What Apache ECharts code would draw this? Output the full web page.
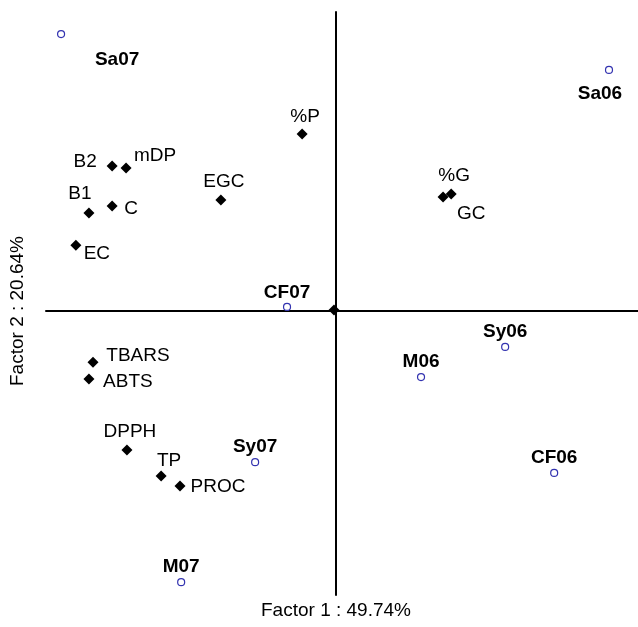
<!DOCTYPE html>
<html>
<head>
<meta charset="utf-8">
<script src="https://cdn.jsdelivr.net/npm/echarts@6/dist/echarts.min.js"></script>
<style>html,body{margin:0;padding:0;background:#fff}#c{width:638px;height:627px}</style>
</head>
<body>
<div id="c"></div>
<script>
// Observations (cases)
const obsNames = ['Sa07','CF07','Sa06','Sy07','M07','M06','Sy06','CF06'];
const obsF1 = [-0.948,-0.169,0.941,-0.279,-0.534,0.293,0.583,0.752];
const obsF2 = [0.926,0.012,0.806,-0.508,-0.910,-0.223,-0.122,-0.544];
// Variables
const varNames = ['%P','B2','mDP','EGC','B1','C','EC','%G','GC','','TBARS','ABTS','DPPH','TP','PROC'];
const varF1 = [-0.117,-0.772,-0.724,-0.397,-0.852,-0.772,-0.897,0.369,0.397,-0.007,-0.838,-0.852,-0.721,-0.603,-0.538];
const varF2 = [0.591,0.484,0.477,0.370,0.327,0.350,0.219,0.380,0.390,0.002,-0.173,-0.229,-0.467,-0.554,-0.588];
const xTitle = 'Factor 1 : 49.74%';
const yTitle = 'Factor 2 : 20.64%';

// label placement (layout only)
const labelOffsets = {
  'Sa07':[56,26],'CF07':[0,-14],'Sa06':[-9,24],'Sy07':[0,-15],'M07':[0,-15],'M06':[0,-15],'Sy06':[0,-15],'CF06':[0,-15],
  '%P':[3,-17],'B2':[-27,-4],'mDP':[29,-12],'EGC':[3,-18],'B1':[-9,-19],'C':[19,3],'EC':[21,9],'%G':[11,-21],'GC':[20,20],
  'TBARS':[45,-6],'ABTS':[39,3],'DPPH':[3,-18],'TP':[8,-15],'PROC':[38,1],'':[0,0]
};
const FONT = '"Liberation Sans", Arial, sans-serif';

function build(names, xs, ys, bold) {
  return names.map((n, i) => ({
    name: n,
    value: [xs[i], ys[i]],
    label: {
      show: n !== '',
      formatter: n,
      position: 'inside',
      offset: labelOffsets[n] || [0,0],
      color: '#000',
      opacity: 1,
      fontFamily: FONT,
      fontSize: 19,
      fontWeight: bold ? 'bold' : 'normal'
    }
  }));
}

const chart = echarts.init(document.getElementById('c'));
chart.setOption({
  animation: false,
  backgroundColor: '#fff',
  grid: { left: 46, right: 0, top: 12, bottom: 32 },
  xAxis: {
    type: 'value', min: -1, max: 1.041,
    axisLine: { show: true, onZero: true, lineStyle: { color: '#000', width: 2 } },
    axisTick: { show: false }, axisLabel: { show: false }, splitLine: { show: false }
  },
  yAxis: {
    type: 'value', min: -0.953, max: 1,
    axisLine: { show: true, onZero: true, lineStyle: { color: '#000', width: 2 } },
    axisTick: { show: false }, axisLabel: { show: false }, splitLine: { show: false }
  },
  series: [
    {
      type: 'scatter',
      symbol: 'circle',
      symbolSize: 7,
      itemStyle: { color: '#fff', borderColor: '#3333b0', borderWidth: 1.2, opacity: 1 },
      data: build(obsNames, obsF1, obsF2, true),
      z: 3
    },
    {
      type: 'scatter',
      symbol: 'diamond',
      symbolSize: 11,
      itemStyle: { color: '#000', opacity: 1 },
      data: build(varNames, varF1, varF2, false),
      z: 4
    }
  ],
  graphic: [
    { type: 'text', x: 336, y: 611, style: { text: xTitle, x: 0, y: 0, align: 'center', verticalAlign: 'middle', font: '19px ' + FONT, fill: '#000' } },
    { type: 'text', x: 18, y: 311, rotation: Math.PI / 2, style: { text: yTitle, x: 0, y: 0, align: 'center', verticalAlign: 'middle', font: '19px ' + FONT, fill: '#000' } }
  ]
});
</script>
</body>
</html>
